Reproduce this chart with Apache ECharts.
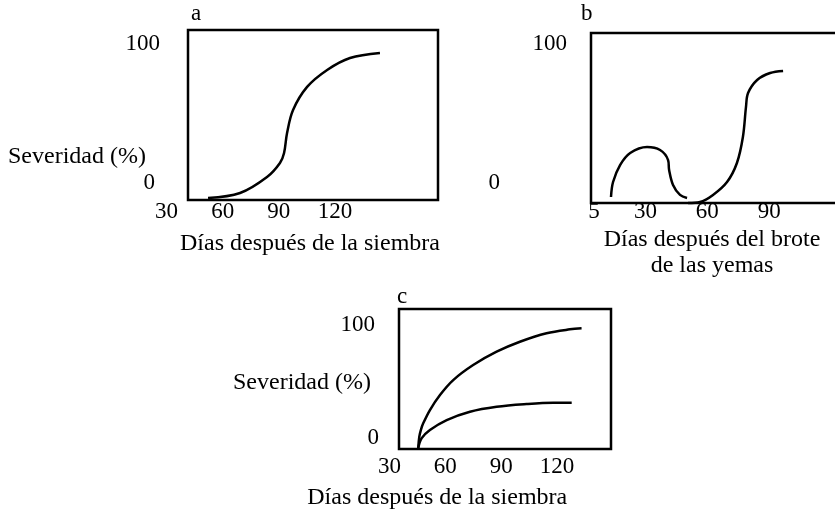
<!DOCTYPE html>
<html>
<head>
<meta charset="utf-8">
<script src="https://cdn.jsdelivr.net/npm/echarts@6/dist/echarts.min.js"></script>
<style>
  html, body { margin: 0; padding: 0; background: #fff; }
  #chart { width: 835px; height: 510px; }
</style>
</head>
<body>
<div id="chart"></div>
<script>
// ---- Data ----
// Panel a: days after sowing vs severity (%)
const aDays     = [52.2, 69.3, 83.7, 90.6, 92.8, 94.4, 97.6, 105.1, 115.8, 128.0, 144.0];
const aSeverity = [-10.8, -7.2, 4.3, 14.4, 21.6, 36.0, 52.5, 69.1, 81.3, 89.9, 93.5];

// Panel b: days after bud break, two curves
const bHumpDays     = [13.2, 14.2, 17.6, 22.5, 30.7, 37.0, 40.9, 41.4, 43.3, 46.7, 50.1];
const bHumpSeverity = [-10.1, 0.7, 12.9, 21.6, 25.9, 23.7, 16.5, 9.4, -1.4, -8.6, -10.8];
const bSDays        = [50.6, 56.4, 62.7, 69.5, 74.3, 77.2, 78.7, 79.7, 84.1, 90.4, 96.7];
const bSSeverity    = [-14.4, -13.7, -8.6, 0.7, 14.4, 33.1, 54.7, 64.7, 74.1, 79.1, 80.6];

// Panel c: days after sowing, two curves
const cUpperDays     = [45.5, 46.1, 47.0, 48.2, 51.8, 57.2, 64.3, 75.0, 87.6, 100.1, 114.4, 126.9, 133.2];
const cUpperSeverity = [-9.1, 1.2, 7.5, 13.0, 24.8, 38.1, 51.3, 64.6, 76.4, 85.2, 92.7, 96.2, 97.1];
const cLowerDays     = [45.5, 47.3, 51.8, 60.8, 73.3, 87.6, 103.7, 118.0, 127.9];
const cLowerSeverity = [-9.1, -0.3, 7.1, 15.9, 23.3, 27.7, 30.1, 31.2, 31.2];

// Tick labels
const aTicks = [30, 60, 90, 120];
const bTicks = [5, 30, 60, 90];
const cTicks = [30, 60, 90, 120];
const yTicks = [0, 100];

// Texts
const panelLetters = ['a', 'b', 'c'];
const yName = 'Severidad (%)';
const xNameSowing = 'Días después de la siembra';
const xNameBud = 'Días después del brote\nde las yemas';

// ---- Chart ----
const FONT = 'Liberation Serif, Times New Roman, serif';
const txt = { fontFamily: FONT, fontSize: 23, color: '#000', fontWeight: 'normal' };
const nameTxt = { fontFamily: FONT, fontSize: 24, color: '#000', fontWeight: 'normal' };

const zip = (xs, ys) => xs.map((x, i) => [x, ys[i]]);

function labelX(gridIndex, min, max, ticks, extra) {
  return Object.assign({
    type: 'value', gridIndex, min, max,
    axisLine: { show: false }, axisTick: { show: false }, splitLine: { show: false },
    axisLabel: Object.assign({ customValues: ticks, margin: 17, showMinLabel: true, showMaxLabel: true }, txt)
  }, extra || {});
}
function labelY(gridIndex, margin, zeroPad, hundredPad) {
  return {
    type: 'value', gridIndex, min: 0, max: 100,
    axisLine: { show: false }, axisTick: { show: false }, splitLine: { show: false },
    axisLabel: Object.assign({
      customValues: yTicks, margin,
      formatter: v => v === 0 ? '{z|0}' : '{h|100}',
      rich: {
        z: Object.assign({ padding: [0, zeroPad, 0, 0] }, txt),
        h: Object.assign({ padding: [0, hundredPad, 0, 0] }, txt)
      }
    }, txt)
  };
}
function frameX(gridIndex, min, max, name, nameGap, pad, lineHeight) {
  return {
    type: 'value', gridIndex, min, max,
    axisLine: { show: false }, axisTick: { show: false }, axisLabel: { show: false }, splitLine: { show: false },
    name: name || '', nameLocation: 'middle', nameGap: nameGap || 0,
    nameTextStyle: Object.assign({ padding: pad || 0, lineHeight: lineHeight || 26 }, nameTxt)
  };
}
function frameY(gridIndex, min, max) {
  return {
    type: 'value', gridIndex, min, max,
    axisLine: { show: false }, axisTick: { show: false }, axisLabel: { show: false }, splitLine: { show: false }
  };
}
const frameGrid = (left, top, width, height) => ({
  left, top, width, height, show: true, borderColor: '#000', borderWidth: 2.5, backgroundColor: 'transparent',
  containLabel: false, outerBoundsMode: 'none'
});
const labelGrid = (left, top, width, height) => ({
  left, top, width, height, show: false, containLabel: false, outerBoundsMode: 'none'
});

const lineSeries = (xi, yi, data) => ({
  type: 'line', xAxisIndex: xi, yAxisIndex: yi, data, smooth: 0.35, showSymbol: false,
  lineStyle: { color: '#000', width: 2.5 }, silent: true, animation: false, clip: false
});

const option = {
  animation: false,
  backgroundColor: '#fff',
  title: [
    { text: panelLetters[0], left: 191, top: 1, padding: 0, textStyle: Object.assign({ lineHeight: 26 }, txt) },
    { text: panelLetters[1], left: 581, top: 1, padding: 0, textStyle: Object.assign({ lineHeight: 26 }, txt) },
    { text: panelLetters[2], left: 397, top: 284, padding: 0, textStyle: Object.assign({ lineHeight: 26 }, txt) },
    { text: yName, left: 8, top: 144, padding: 0, textStyle: Object.assign({ lineHeight: 26 }, nameTxt) },
    { text: yName, left: 233, top: 370, padding: 0, textStyle: Object.assign({ lineHeight: 26 }, nameTxt) }
  ],
  grid: [
    frameGrid(188, 30, 250, 170),     // 0 frame a
    labelGrid(166.5, 44, 168.5, 139), // 1 labels a
    frameGrid(591, 33, 270, 170),     // 2 frame b (right edge runs off the page)
    labelGrid(594, 44, 175.2, 139),   // 3 labels b
    frameGrid(399, 309, 212, 140),    // 4 frame c
    labelGrid(389.4, 325, 167.7, 113) // 5 labels c
  ],
  xAxis: [
    frameX(0, 41.5, 175, xNameSowing, 31, [0, 6, 0, 0]),
    labelX(1, 30, 120, aTicks),
    frameX(2, 3.5, 134.5, xNameBud, 24, [0, 28, 0, 0]),
    labelX(3, 5, 90, bTicks),
    frameX(4, 35.2, 149.0),
    labelX(5, 30, 120, cTicks, {
      name: xNameSowing, nameLocation: 'middle', nameGap: 47,
      nameTextStyle: Object.assign({ padding: [0, 72, 0, 0], lineHeight: 26 }, nameTxt)
    })
  ],
  yAxis: [
    frameY(0, -12.2, 110),
    labelY(1, 6.5, 5, 0),
    frameY(2, -14.4, 107.9),
    labelY(3, 27, 67, 0),
    frameY(4, -9.7, 114.2),
    labelY(5, 10.4, 0, 4)
  ],
  series: [
    lineSeries(0, 0, zip(aDays, aSeverity)),
    lineSeries(2, 2, zip(bHumpDays, bHumpSeverity)),
    lineSeries(2, 2, zip(bSDays, bSSeverity)),
    lineSeries(4, 4, zip(cUpperDays, cUpperSeverity)),
    lineSeries(4, 4, zip(cLowerDays, cLowerSeverity))
  ]
};

const chart = echarts.init(document.getElementById('chart'), null, { renderer: 'canvas' });
chart.setOption(option);
</script>
</body>
</html>
